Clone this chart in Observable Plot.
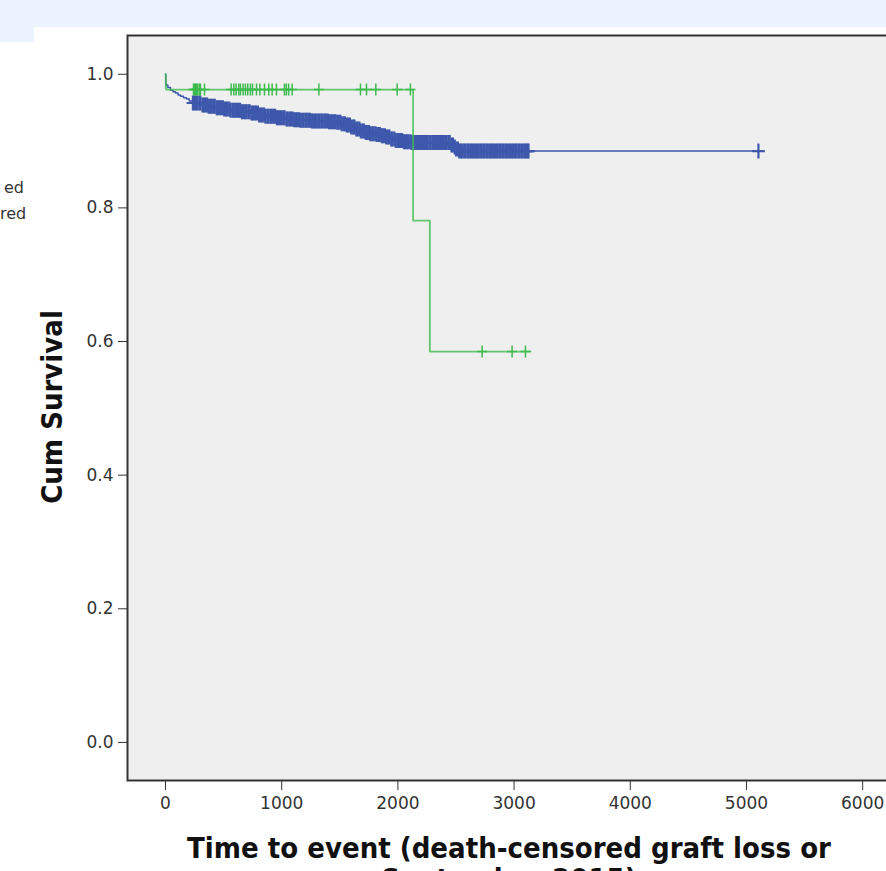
<!DOCTYPE html>
<html>
<head>
<meta charset="utf-8">
<script src="https://cdn.jsdelivr.net/npm/d3@7"></script>
<script src="https://cdn.jsdelivr.net/npm/@observablehq/plot@0.6"></script>
<style>
  html, body { margin: 0; padding: 0; background: #fff; overflow: hidden; }
</style>
</head>
<body>
<div id="chart"></div>
<script>
// ---- Data ----
const xTicks = [0, 1000, 2000, 3000, 4000, 5000, 6000];
const yTicks = [0.0, 0.2, 0.4, 0.6, 0.8, 1.0];

// Group 1 (blue) Kaplan-Meier step curve
const blueTime = [0, 2, 20, 43, 65, 86, 108, 129, 155, 181, 205, 232, 301, 365, 430, 495, 559, 645, 731, 800, 861, 950, 1033, 1100, 1162, 1250, 1334, 1400, 1463, 1510, 1549, 1590, 1635, 1680, 1721, 1760, 1807, 1850, 1893, 1935, 1979, 2040, 2108, 2453, 2475, 2496, 2522, 5103];
const blueSurv = [1.000, 0.984, 0.980, 0.976, 0.974, 0.972, 0.969, 0.967, 0.965, 0.963, 0.960, 0.957, 0.954, 0.952, 0.950, 0.948, 0.946, 0.944, 0.942, 0.939, 0.937, 0.935, 0.933, 0.932, 0.931, 0.930, 0.930, 0.929, 0.928, 0.926, 0.924, 0.921, 0.918, 0.915, 0.913, 0.911, 0.910, 0.908, 0.906, 0.903, 0.901, 0.899, 0.898, 0.894, 0.891, 0.888, 0.885, 0.885];
// Group 1 censored times (dense band)
const blueCensor = [236, 247, 263, 274, 291, 300, 318, 331, 344, 358, 371, 385, 398, 413, 424, 441, 451, 467, 478, 494, 506, 521, 533, 549, 560, 576, 588, 603, 615, 631, 642, 658, 670, 685, 697, 713, 724, 740, 752, 767, 779, 795, 806, 822, 834, 849, 861, 877, 888, 904, 916, 931, 943, 959, 970, 986, 998, 1013, 1025, 1041, 1052, 1068, 1080, 1095, 1107, 1123, 1134, 1150, 1162, 1177, 1189, 1205, 1216, 1232, 1244, 1259, 1271, 1287, 1298, 1314, 1326, 1341, 1353, 1369, 1380, 1396, 1408, 1423, 1435, 1451, 1462, 1478, 1490, 1505, 1517, 1533, 1544, 1560, 1572, 1587, 1599, 1615, 1626, 1642, 1654, 1669, 1681, 1697, 1708, 1724, 1736, 1751, 1763, 1779, 1790, 1806, 1818, 1833, 1845, 1861, 1872, 1888, 1900, 1915, 1927, 1943, 1954, 1970, 1982, 1997, 2009, 2025, 2036, 2052, 2064, 2079, 2091, 2107, 2118, 2134, 2146, 2161, 2173, 2189, 2200, 2216, 2228, 2243, 2255, 2271, 2282, 2298, 2310, 2325, 2337, 2353, 2364, 2380, 2392, 2407, 2419, 2435, 2446, 2462, 2474, 2489, 2501, 2517, 2528, 2544, 2556, 2571, 2583, 2599, 2610, 2626, 2638, 2653, 2665, 2681, 2692, 2708, 2720, 2735, 2747, 2763, 2774, 2790, 2802, 2817, 2829, 2845, 2856, 2872, 2884, 2899, 2911, 2927, 2938, 2954, 2966, 2981, 2993, 3009, 3020, 3036, 3048, 3063, 3075, 3091, 3102, 3116, 3124, 5103];

// Group 2 (green) Kaplan-Meier step curve
const greenTime = [0, 3, 2131, 2275, 3141];
const greenSurv = [1.000, 0.977, 0.781, 0.585, 0.585];
// Group 2 censored times
const greenCensor = [241, 250, 258, 267, 276, 290, 301, 336, 565, 588, 608, 631, 645, 668, 688, 708, 731, 749, 783, 812, 852, 889, 918, 955, 1024, 1040, 1060, 1090, 1320, 1678, 1730, 1810, 1994, 2108, 2725, 2983, 3098];

const xTitle1 = "Time to event (death-censored graft loss or";
const xTitle2 = "September 2015)";
const yTitle = "Cum Survival";
const legendFragments = ["ed", "red"];

// ---- Build tables ----
const blueCurve = blueTime.map((t, i) => ({t, s: blueSurv[i]}));
const greenCurve = greenTime.map((t, i) => ({t, s: greenSurv[i]}));
const bis = d3.bisector(d => d.t).right;
const survAt = (curve, t) => curve[Math.max(0, bis(curve, t) - 1)].s;
const blueMarks = blueCensor.map(t => ({t, s: survAt(blueCurve, t)}));
const greenMarks = greenCensor.map(t => ({t, s: survAt(greenCurve, t)}));

const plusSymbol = {
  draw(context, size) {
    const r = Math.sqrt(size / Math.PI);
    context.moveTo(0, -r); context.lineTo(0, r);
    context.moveTo(-r * 0.85, 0); context.lineTo(r * 0.85, 0);
  }
};

const BLUE = "#3E58AC";
const GREEN = "#3DBB4E";

const chart = Plot.plot({
  width: 886,
  height: 871,
  marginLeft: 127,
  marginTop: 35,
  marginBottom: 91,
  marginRight: -3,
  style: {fontFamily: "DejaVu Sans", fontSize: "17px", color: "#333", background: "transparent"},
  x: {domain: [-327, 6231], ticks: xTicks, tickFormat: "d", tickSize: 10, tickPadding: 6, label: null},
  y: {domain: [-0.057, 1.058], ticks: yTicks, tickFormat: ".1f", tickSize: 9, tickPadding: 5, label: null},
  marks: [
    Plot.frame({fill: "#EFEFEF", stroke: "#333", strokeWidth: 2}),
    Plot.line(blueCurve, {x: "t", y: "s", curve: "step-after", stroke: BLUE, strokeWidth: 1.5}),
    Plot.dot(blueMarks, {x: "t", y: "s", symbol: plusSymbol, r: 7.5, fill: "none", stroke: BLUE, strokeWidth: 2.2}),
    Plot.line(greenCurve, {x: "t", y: "s", curve: "step-after", stroke: GREEN, strokeWidth: 1.8, strokeOpacity: 0.8}),
    Plot.dot(greenMarks, {x: "t", y: "s", symbol: plusSymbol, r: 6, fill: "none", stroke: GREEN, strokeWidth: 1.5})
  ]
});

const svg = d3.select(chart);
svg.style("overflow", "hidden").style("display", "block");
// light-blue band (page chrome above the chart)
const bg = svg.insert("g", ":first-child");
bg.append("rect").attr("x", 0).attr("y", 0).attr("width", 886).attr("height", 871).attr("fill", "#fff");
bg.append("rect").attr("x", 0).attr("y", 0).attr("width", 886).attr("height", 27).attr("fill", "#EBF4FE");
bg.append("rect").attr("x", 0).attr("y", 0).attr("width", 34).attr("height", 42).attr("fill", "#EBF4FE");

const ann = svg.append("g").attr("font-family", "DejaVu Sans Condensed, DejaVu Sans").attr("font-weight", "bold").attr("fill", "#111");
ann.append("text").attr("x", 509).attr("y", 858).attr("text-anchor", "middle").attr("font-size", 29).text(xTitle1);
ann.append("text").attr("x", 509).attr("y", 889).attr("text-anchor", "middle").attr("font-size", 29).text(xTitle2);
ann.append("text").attr("transform", "translate(62,407) rotate(-90)").attr("text-anchor", "middle").attr("font-size", 29).text(yTitle);

const leg = svg.append("g").attr("font-family", "DejaVu Sans").attr("font-size", 16).attr("fill", "#333").attr("text-anchor", "start");
legendFragments.forEach((t, i) => leg.append("text").attr("x", i === 0 ? 4 : 0).attr("y", 193 + i * 26).text(t));

document.getElementById("chart").appendChild(chart);
</script>
</body>
</html>
